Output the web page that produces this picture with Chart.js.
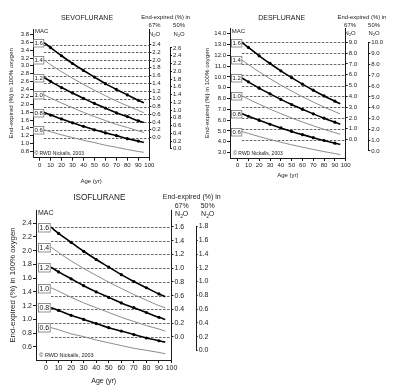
<!DOCTYPE html>
<html>
<head>
<meta charset="utf-8">
<script src="https://cdn.jsdelivr.net/npm/chart.js@4.4.1/dist/chart.umd.min.js"></script>
<style>
  body { margin: 0; background: #fff; }
  canvas { position: absolute; }
</style>
</head>
<body>
<canvas id="sevo" width="200" height="190" style="left:0;top:0"></canvas>
<canvas id="des" width="197" height="190" style="left:200px;top:0"></canvas>
<canvas id="iso" width="240" height="197" style="left:0;top:190px"></canvas>
<script>
const AGES = [4, 10, 20, 30, 40, 50, 60, 70, 80, 90, 95];
const AGE_TICKS = [0, 10, 20, 30, 40, 50, 60, 70, 80, 90, 100];
const MAC_LABELS = ['1.6', '1.4', '1.2', '1.0', '0.8', '0.6'];

// end-expired (%) in 100% oxygen
const sevo16 = [3.60, 3.47, 3.26, 3.06, 2.88, 2.71, 2.54, 2.39, 2.25, 2.11, 2.05];
const sevo14 = [3.15, 3.03, 2.85, 2.68, 2.52, 2.37, 2.23, 2.09, 1.97, 1.85, 1.79];
const sevo12 = [2.70, 2.60, 2.44, 2.30, 2.16, 2.03, 1.91, 1.79, 1.69, 1.58, 1.54];
const sevo10 = [2.25, 2.17, 2.04, 1.92, 1.80, 1.69, 1.59, 1.49, 1.41, 1.32, 1.28];
const sevo08 = [1.80, 1.73, 1.63, 1.53, 1.44, 1.35, 1.27, 1.20, 1.12, 1.06, 1.02];
const sevo06 = [1.35, 1.30, 1.22, 1.15, 1.08, 1.02, 0.95, 0.90, 0.84, 0.79, 0.77];

const des16 = [13.20, 12.72, 11.95, 11.24, 10.56, 9.93, 9.33, 8.77, 8.24, 7.75, 7.51];
const des14 = [11.55, 11.13, 10.46, 9.83, 9.24, 8.69, 8.16, 7.67, 7.21, 6.78, 6.57];
const des12 = [9.90, 9.54, 8.96, 8.43, 7.92, 7.44, 7.00, 6.58, 6.18, 5.81, 5.63];
const des10 = [8.25, 7.95, 7.47, 7.02, 6.60, 6.20, 5.83, 5.48, 5.15, 4.84, 4.70];
const des08 = [6.60, 6.36, 5.98, 5.62, 5.28, 4.96, 4.66, 4.38, 4.12, 3.87, 3.76];
const des06 = [4.95, 4.77, 4.48, 4.21, 3.96, 3.72, 3.50, 3.29, 3.09, 2.91, 2.82];

const iso16 = [2.34, 2.25, 2.12, 1.99, 1.87, 1.76, 1.65, 1.55, 1.46, 1.37, 1.33];
const iso14 = [2.05, 1.97, 1.85, 1.74, 1.64, 1.54, 1.45, 1.36, 1.28, 1.20, 1.17];
const iso12 = [1.76, 1.69, 1.59, 1.49, 1.40, 1.32, 1.24, 1.17, 1.10, 1.03, 1.00];
const iso10 = [1.46, 1.41, 1.32, 1.24, 1.17, 1.10, 1.03, 0.97, 0.91, 0.86, 0.83];
const iso08 = [1.17, 1.13, 1.06, 1.00, 0.94, 0.88, 0.83, 0.78, 0.73, 0.69, 0.67];
const iso06 = [0.88, 0.85, 0.79, 0.75, 0.70, 0.66, 0.62, 0.58, 0.55, 0.52, 0.50];

// tick labels: oxygen axis, 67% N2O axis, 50% N2O axis
const sevoTicks = [0.8, 1.0, 1.2, 1.4, 1.6, 1.8, 2.0, 2.2, 2.4, 2.6, 2.8, 3.0, 3.2, 3.4, 3.6, 3.8];
const sevo67Ticks = [0.0, 0.2, 0.4, 0.6, 0.8, 1.0, 1.2, 1.4, 1.6, 1.8, 2.0, 2.2, 2.4];
const sevo50Ticks = [0.0, 0.2, 0.4, 0.6, 0.8, 1.0, 1.2, 1.4, 1.6, 1.8, 2.0, 2.2, 2.4, 2.6];
const desTicks = [3, 4, 5, 6, 7, 8, 9, 10, 11, 12, 13, 14];
const des67Ticks = [0, 1, 2, 3, 4, 5, 6, 7, 8, 9];
const des50Ticks = [0, 1, 2, 3, 4, 5, 6, 7, 8, 9, 10];
const isoTicks = [0.6, 0.8, 1.0, 1.2, 1.4, 1.6, 1.8, 2.0, 2.2, 2.4];
const iso67Ticks = [0.0, 0.2, 0.4, 0.6, 0.8, 1.0, 1.2, 1.4, 1.6];
const iso50Ticks = [0.0, 0.2, 0.4, 0.6, 0.8, 1.0, 1.2, 1.4, 1.6, 1.8];

const FONT = '"Liberation Sans", Arial, Helvetica, sans-serif';
const INK = '#1a1a1a';
Chart.defaults.font.family = FONT;
Chart.defaults.color = INK;

const panels = [
  { id: 'sevo', name: 'SEVOFLURANE', curves: [sevo16, sevo14, sevo12, sevo10, sevo08, sevo06],
    ticks: sevoTicks, t67: sevo67Ticks, t50: sevo50Ticks,
    yMin: 0.63, yMax: 3.95, off67: 1.15, off50: 0.86, xMin: -6,
    top: 29, left: 33, w67: 20.7, w50: 30, xH: 32.3,
    fs: 6, titleFs: 7, hdrFs: 5.9, copyFs: 5, yTitleFs: 6.2,
    yTitlePad: 8, xTitlePad: 4.7, xTickPad: 0.8,
    titleAt: [87, 18], hdrAt: [165.7, 17.5], col67: 154.5, col50: 179, rows: [25.7, 34],
    macAt: [35, 31], copyAt: [34.5, 154] },
  { id: 'des', name: 'DESFLURANE', curves: [des16, des14, des12, des10, des08, des06],
    ticks: desTicks, t67: des67Ticks, t50: des50Ticks,
    yMin: 2.5, yMax: 14.52, off67: 4.2, off50: 3.15, xMin: -7,
    top: 28, left: 30, w67: 22.6, w50: 28.7, xH: 32,
    fs: 6, titleFs: 7, hdrFs: 5.9, copyFs: 5, yTitleFs: 6.2,
    yTitlePad: 3.6, xTitlePad: 11.4, xTickPad: 0.8,
    titleAt: [81.7, 18], hdrAt: [162, 17], col67: 150, col50: 174, rows: [25, 33],
    macAt: [31.7, 31], copyAt: [33.3, 154] },
  { id: 'iso', name: 'ISOFLURANE', curves: [iso16, iso14, iso12, iso10, iso08, iso06],
    ticks: isoTicks, t67: iso67Ticks, t50: iso50Ticks,
    yMin: 0.41, yMax: 2.59, off67: 0.745, off50: 0.55, xMin: -8,
    top: 20, left: 36, w67: 24.2, w50: 44.3, xH: 27,
    fs: 7, titleFs: 8.2, hdrFs: 7, copyFs: 5.5, yTitleFs: 7.9,
    yTitlePad: 7.6, xTitlePad: 1.8, xTickPad: 1,
    titleAt: [99.3, 7.3], hdrAt: [191.7, 6.7], col67: 181.7, col50: 207.7, rows: [15.7, 24.3],
    macAt: [38, 23.3], copyAt: [39.3, 165] }
];

function text(ctx, s, x, y, size, align) {
  ctx.font = size + 'px ' + FONT;
  ctx.textAlign = align || 'center';
  ctx.textBaseline = 'middle';
  ctx.fillText(s, x, y);
}

// N2O with a lowered small 2
function n2o(ctx, cx, y, size) {
  const big = size + 'px ' + FONT, small = (size * 0.7) + 'px ' + FONT;
  ctx.font = big;
  const wN = ctx.measureText('N').width, wO = ctx.measureText('O').width;
  ctx.font = small;
  const w2 = ctx.measureText('2').width;
  let x = cx - (wN + w2 + wO) / 2;
  ctx.textAlign = 'left';
  ctx.textBaseline = 'middle';
  ctx.font = big; ctx.fillText('N', x, y); x += wN;
  ctx.font = small; ctx.fillText('2', x, y + size * 0.3); x += w2;
  ctx.font = big; ctx.fillText('O', x, y);
}

function decor(p) {
  return {
    id: 'decor',
    beforeDatasetsDraw(chart) {
      const { ctx, chartArea: a, scales: { x, y67 } } = chart;
      const x0 = x.getPixelForValue(AGES[0]);
      ctx.save();
      ctx.strokeStyle = '#555';
      ctx.lineWidth = 0.9;
      ctx.setLineDash([2.5, 1.5]);
      y67.ticks.forEach(t => {
        const py = Math.round(y67.getPixelForValue(t.value)) + 0.5;
        ctx.beginPath();
        ctx.moveTo(x0, py);
        ctx.lineTo(a.right, py);
        ctx.stroke();
      });
      ctx.restore();
    },
    afterDatasetsDraw(chart) {
      const { ctx, scales: { y50 } } = chart;
      ctx.save();
      ctx.fillStyle = INK;

      // MAC boxes at the start of each curve
      chart.data.datasets.forEach((ds, i) => {
        const pt = chart.getDatasetMeta(i).data[0];
        ctx.font = p.fs + 'px ' + FONT;
        const w = ctx.measureText(ds.label).width + 2;
        const h = p.fs + 1.5;
        const rx = Math.round(pt.x - 1 - w) + 0.5, ry = Math.round(pt.y - h / 2) + 0.5;
        ctx.fillStyle = '#fff';
        ctx.fillRect(rx, ry, w, h);
        ctx.strokeStyle = '#777';
        ctx.lineWidth = 0.8;
        ctx.strokeRect(rx, ry, w, h);
        ctx.fillStyle = INK;
        text(ctx, ds.label, rx + w / 2, ry + h / 2 + 0.3, p.fs);
      });

      // 50% N2O axis line only over its labelled range
      const lx = Math.round(y50.left) + 0.5;
      ctx.strokeStyle = INK;
      ctx.lineWidth = 1;
      ctx.beginPath();
      ctx.moveTo(lx, y50.getPixelForValue(p.t50[0]));
      ctx.lineTo(lx, y50.getPixelForValue(p.t50[p.t50.length - 1]));
      ctx.stroke();

      text(ctx, p.name, p.titleAt[0], p.titleAt[1], p.titleFs);
      text(ctx, 'End-expired (%) in', p.hdrAt[0], p.hdrAt[1], p.hdrFs);
      text(ctx, '67%', p.col67, p.rows[0], p.hdrFs);
      text(ctx, '50%', p.col50, p.rows[0], p.hdrFs);
      n2o(ctx, p.col67, p.rows[1], p.hdrFs);
      n2o(ctx, p.col50, p.rows[1], p.hdrFs);
      text(ctx, 'MAC', p.macAt[0], p.macAt[1], p.fs, 'left');
      text(ctx, '\u00A9 RWD Nickalls, 2003', p.copyAt[0], p.copyAt[1], p.copyFs, 'left');
      ctx.restore();
    }
  };
}

function fixedTicks(list) {
  return s => { s.ticks = list.map(v => ({ value: v })); };
}

panels.forEach(p => {
  const datasets = p.curves.map((vals, i) => {
    const heavy = i % 2 === 0;
    return {
      label: MAC_LABELS[i],
      data: vals.map((v, j) => ({ x: AGES[j], y: v })),
      borderColor: heavy ? '#000' : '#8c8c8c',
      borderWidth: heavy ? 1.6 : 1,
      pointRadius: heavy ? AGES.map(a => (a % 10 === 0 ? 1.6 : 0)) : 0,
      pointBackgroundColor: '#000',
      pointBorderWidth: 0,
      cubicInterpolationMode: 'monotone',
      yAxisID: 'y'
    };
  });

  const fnt = { size: p.fs };
  const fmt = v => Number(v).toFixed(1);

  new Chart(document.getElementById(p.id), {
    type: 'line',
    data: { datasets },
    options: {
      responsive: false,
      devicePixelRatio: 1,
      animation: false,
      layout: { padding: { top: p.top, left: 0, right: 0, bottom: 0 } },
      plugins: { legend: { display: false }, tooltip: { enabled: false } },
      scales: {
        x: {
          type: 'linear', min: p.xMin, max: 100,
          afterBuildTicks: fixedTicks(AGE_TICKS),
          afterFit: s => { s.height = p.xH; },
          grid: { drawOnChartArea: false, tickLength: 3, color: INK },
          border: { color: INK },
          ticks: { font: fnt, padding: p.xTickPad, maxRotation: 0, autoSkip: false },
          title: { display: true, text: 'Age (yr)', font: fnt, padding: { top: 0, bottom: p.xTitlePad } }
        },
        y: {
          position: 'left', min: p.yMin, max: p.yMax,
          afterBuildTicks: fixedTicks(p.ticks),
          afterFit: s => { s.width = p.left; },
          grid: { drawOnChartArea: false, tickLength: 3, color: INK },
          border: { color: INK },
          ticks: { font: fnt, padding: 1, autoSkip: false, callback: fmt },
          title: { display: true, text: 'End-expired (%) in 100% oxygen', font: { size: p.yTitleFs },
                   padding: { top: p.yTitlePad, bottom: 0 } }
        },
        y67: {
          position: 'right', weight: 0, min: p.yMin - p.off67, max: p.yMax - p.off67,
          afterBuildTicks: fixedTicks(p.t67),
          afterFit: s => { s.width = p.w67; },
          grid: { drawOnChartArea: false, tickLength: 2, color: INK },
          border: { color: INK },
          ticks: { font: fnt, padding: 1, autoSkip: false, callback: fmt }
        },
        y50: {
          position: 'right', weight: 1, min: p.yMin - p.off50, max: p.yMax - p.off50,
          afterBuildTicks: fixedTicks(p.t50),
          afterFit: s => { s.width = p.w50; },
          grid: { drawOnChartArea: false, tickLength: 2, color: INK },
          border: { display: false },
          ticks: { font: fnt, padding: 1, autoSkip: false, callback: fmt }
        }
      }
    },
    plugins: [decor(p)]
  });
});
</script>
</body>
</html>
